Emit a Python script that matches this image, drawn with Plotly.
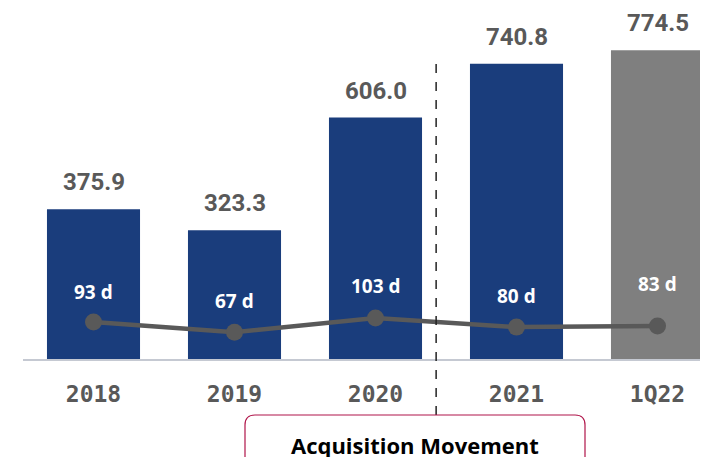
import plotly.graph_objects as go

# chart data
periods = ["2018", "2019", "2020", "2021", "1Q22"]
volume = [375.9, 323.3, 606.0, 740.8, 774.5]
days = [93, 67, 103, 80, 83]
day_labels = ["93 d", "67 d", "103 d", "80 d", "83 d"]
bar_colors = ["#1a3d7c", "#1a3d7c", "#1a3d7c", "#1a3d7c", "#7f7f7f"]
box_text = "Acquisition Movement"

# the page body has an 8px margin, so the figure is drawn 8px in
OFF = 8
W, H = 708 - OFF, 457 - OFF
L = 23 - OFF
BASE = 359 - OFF  # baseline in figure pixels
plot_w, plot_h = W - L, BASE


def px_x(p):
    return (p - OFF - L) / plot_w


def px_y(p):
    return (BASE - (p - OFF)) / plot_h


fig = go.Figure()

fig.add_trace(go.Bar(
    x=list(range(len(periods))), y=volume, marker_color=bar_colors,
    marker_line_width=0, width=0.66, hoverinfo="skip",
))

fig.add_trace(go.Scatter(
    x=list(range(len(periods))), y=days, mode="lines+markers",
    line=dict(color="#595959", width=4.5),
    marker=dict(color="#595959", size=17),
    hoverinfo="skip",
))

label_shift = [30, 31, 32, 31, 42]
for i, (d, t) in enumerate(zip(days, day_labels)):
    fig.add_annotation(
        x=i, y=d, text=t, showarrow=False, yshift=label_shift[i],
        font=dict(family="Open Sans", size=19, color="white", weight="bold"),
    )

# value labels above the bars
for i, v in enumerate(volume):
    fig.add_annotation(
        x=i, y=v, text=f"{v:.1f}", showarrow=False, yshift=27,
        font=dict(family="Roboto", size=24, color="#595959", weight="bold"),
    )

# separator between organic and acquisition periods
fig.add_shape(type="line", xref="x", yref="paper", x0=2.43, x1=2.43,
              y0=px_y(415), y1=px_y(60),
              line=dict(color="#222222", width=1.5, dash="dash"))

# rounded box below the axis
x0, x1 = px_x(245), px_x(585)
yt, yb = px_y(415), px_y(470)
rx, ry = 10 / plot_w, 10 / plot_h
path = (f"M {x0},{yb} L {x0},{yt - ry} Q {x0},{yt} {x0 + rx},{yt} "
        f"L {x1 - rx},{yt} Q {x1},{yt} {x1},{yt - ry} L {x1},{yb}")
fig.add_shape(type="path", xref="paper", yref="paper", path=path,
              line=dict(color="#b0154a", width=1.2), fillcolor="rgba(0,0,0,0)")
fig.add_annotation(x=px_x(415), y=px_y(445), xref="paper", yref="paper",
                   yanchor="middle",
                   text=box_text, showarrow=False,
                   font=dict(family="Open Sans", size=22, color="black", weight="bold"))

fig.update_layout(
    width=W, height=H,
    margin=dict(l=L, r=0, t=0, b=H - BASE),
    paper_bgcolor="white", plot_bgcolor="white",
    showlegend=False,
)
fig.update_xaxes(
    range=[-0.5, -0.5 + plot_w / 141], showline=True, linecolor="#c5c9d2",
    linewidth=2, showgrid=False, ticks="", ticklabelstandoff=13,
    tickmode="array", tickvals=list(range(len(periods))), ticktext=periods,
    tickfont=dict(family="DejaVu Sans Mono", size=23, color="#595959", weight="bold"),
)
fig.update_yaxes(range=[0, plot_h / 0.3985], visible=False, showgrid=False)

fig.write_html("out.html")
